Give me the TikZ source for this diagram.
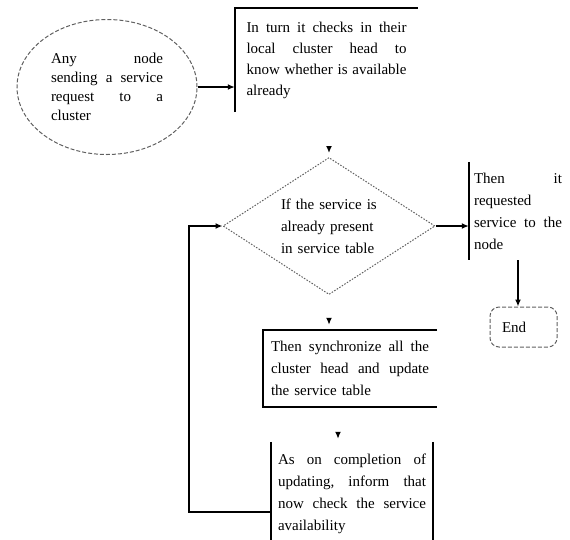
\documentclass[tikz,border=0pt]{standalone}
\usepackage{fontspec}
\setmainfont{Liberation Serif}
\usetikzlibrary{shapes.geometric,arrows.meta}
\newlength{\jwidth}
\newcommand{\jline}[1]{\leavevmode\hbox to \jwidth{#1}}
\tikzset{
    lbl/.style={align=left,inner sep=0pt,font=\fontsize{15}{22}\selectfont},
    jw/.style={text width=#1,execute at begin node={\setlength{\jwidth}{#1}}},
    edge/.style={line width=1.6pt},
    arr/.style={line width=1.4pt,-{Latex[length=7pt,width=6pt]}},
    softdash/.style={draw=gray!75!black,line width=1pt,dash pattern=on 4pt off 2pt},
    softdot/.style={draw=gray!75!black,line width=1pt,dash pattern=on 1.5pt off 1.5pt},
}

\begin{document}
\begin{tikzpicture}[x=1pt,y=-1pt]
    \useasboundingbox (0,0) rectangle (570,539);

    \node[softdash,ellipse,lbl,font=\fontsize{15}{19}\selectfont,
          minimum width=180pt,minimum height=135pt,jw=112pt] (start) at (107,87)
        {\jline{Any\hfill node}\\ \jline{sending\hfill a\hfill service}\\
         \jline{request\hfill to\hfill a}\\ cluster};

    \node[lbl,font=\fontsize{15}{21}\selectfont,
          minimum width=183pt,minimum height=104pt,jw=160pt] (check) at (326.5,60)
        {\jline{In\hfill turn\hfill it\hfill checks\hfill in\hfill their}\\
         \jline{local\hfill cluster\hfill head\hfill to}\\
         \jline{know\hfill whether\hfill is\hfill available}\\ already};

    \node[softdot,diamond,lbl,aspect=1.55,
          minimum width=212pt,minimum height=137pt,jw=96pt] (dec) at (329,226)
        {If the service is\\ already present\\ in service table};

    \node[lbl,minimum width=98pt,minimum height=98pt,jw=88pt] (fed) at (518,211)
        {\jline{Then\hfill it}\\ requested\\ \jline{service\hfill to\hfill the}\\ node};

    \node[softdash,rounded corners=9pt,lbl,minimum height=40pt,
          jw=43pt,inner xsep=12pt] (end) at (523.5,327) {End};

    \node[lbl,minimum width=174pt,minimum height=77pt,jw=158pt] (sync) at (350,368.5)
        {\jline{Then\hfill synchronize\hfill all\hfill the}\\
         \jline{cluster\hfill head\hfill and\hfill update}\\ the service table};

    \node[lbl,minimum width=162pt,minimum height=103pt,jw=148pt] (inform) at (352,493.5)
        {\jline{As\hfill on\hfill completion\hfill of}\\
         \jline{updating,\hfill inform\hfill that}\\
         \jline{now\hfill check\hfill the\hfill service}\\ availability};

    % open frames
    \draw[edge] (check.south west) -- (check.north west) -- (check.north east);
    \draw[edge] (fed.north west) -- (fed.south west);
    \draw[edge] (sync.north east) -- (sync.north west) -- (sync.south west) -- (sync.south east);
    \draw[edge] (inform.north west) -- (inform.south west);
    \draw[edge] (inform.north east) -- (inform.south east);

    \draw[arr] (start.east) -- (start.east -| check.west);
    \draw[arr] (dec.east) -- (dec.east -| fed.west);
    \draw[arr] (fed.south) -- (fed.south |- end.north);

    \coordinate (back) at (189,512);
    \draw[arr] (back -| inform.west) -- (back) |- (dec.west);

    % loose arrow heads
    \path (dec.north) ++(0,-4) coordinate (tipA) ++(0,-7) coordinate (inA);
    \path (dec.south |- sync.north) ++(0,-5) coordinate (tipB) ++(0,-7) coordinate (inB);
    \path (inform.north) ++(-14,-3) coordinate (tipC) ++(0,-7) coordinate (inC);
    \draw[arr] (inA) -- (tipA);
    \draw[arr] (inB) -- (tipB);
    \draw[arr] (inC) -- (tipC);
\end{tikzpicture}
\end{document}
